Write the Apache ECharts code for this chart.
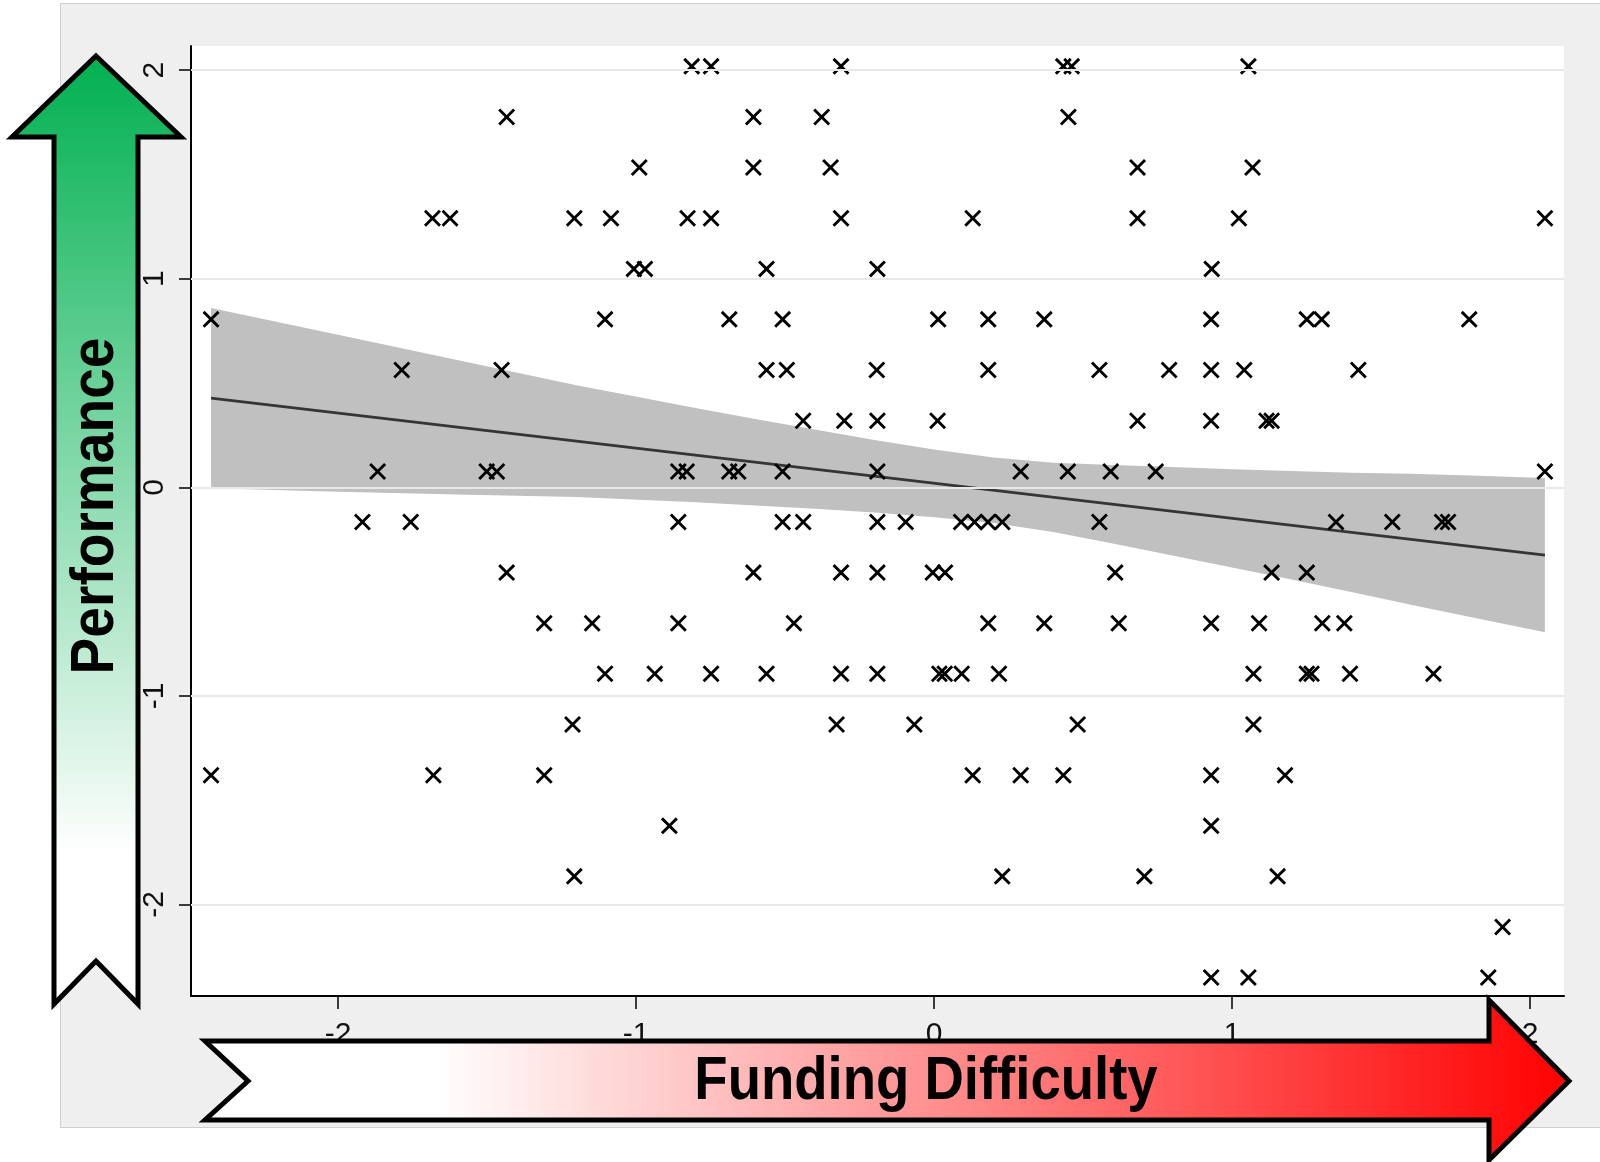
<!DOCTYPE html>
<html>
<head>
<meta charset="utf-8">
<script src="https://cdn.jsdelivr.net/npm/echarts@6/dist/echarts.min.js"></script>
<style>
  html, body { margin: 0; padding: 0; background: #ffffff; }
  #panel { position: absolute; left: 60px; top: 3px; width: 1545px; height: 1123px;
           background: #efefef; border: 1px solid #d0d0d0; }
  #chart { position: absolute; left: 0; top: 0; width: 1600px; height: 1162px; }
</style>
</head>
<body>
<div id="panel"></div>
<div id="chart"></div>
<script>
// Performance scores come in discrete steps; each row lists the funding-difficulty
// values observed at that performance level.
const rowY = [2.018, 1.775, 1.533, 1.290, 1.047, 0.805, 0.562, 0.319, 0.076, -0.166,
              -0.409, -0.652, -0.894, -1.137, -1.380, -1.623, -1.865, -2.108, -2.350];
const rowX = [
  [-0.813, -0.748, -0.312, 0.434, 0.462, 1.055],
  [-1.434, -0.606, -0.377, 0.451],
  [-0.989, -0.606, -0.347, 0.683, 1.069],
  [-1.683, -1.624, -1.207, -1.084, -0.827, -0.748, -0.312, 0.130, 0.683, 1.023, 2.050],
  [-1.007, -0.970, -0.562, -0.190, 0.932],
  [-2.426, -1.104, -0.687, -0.508, 0.014, 0.182, 0.370, 0.930, 1.251, 1.301, 1.796],
  [-1.786, -1.451, -0.562, -0.494, -0.192, 0.182, 0.555, 0.789, 0.930, 1.041, 1.424],
  [-0.439, -0.301, -0.190, 0.012, 0.683, 0.930, 1.116, 1.133],
  [-1.867, -1.501, -1.467, -0.858, -0.830, -0.687, -0.657, -0.508, -0.190, 0.291, 0.449, 0.593, 0.744, 2.050],
  [-1.918, -1.756, -0.858, -0.508, -0.439, -0.190, -0.095, 0.091, 0.136, 0.181, 0.229, 0.555, 1.349, 1.538, 1.705, 1.725],
  [-1.434, -0.606, -0.312, -0.190, -0.004, 0.037, 0.608, 1.133, 1.251],
  [-1.308, -1.147, -0.858, -0.470, 0.182, 0.370, 0.620, 0.930, 1.091, 1.303, 1.377],
  [-1.104, -0.937, -0.748, -0.562, -0.312, -0.190, 0.018, 0.036, 0.093, 0.218, 1.072, 1.251, 1.267, 1.396, 1.676],
  [-1.213, -0.327, -0.066, 0.482, 1.072],
  [-2.426, -1.680, -1.308, 0.130, 0.291, 0.434, 0.930, 1.178],
  [-0.888, 0.930],
  [-1.207, 0.229, 0.706, 1.153],
  [1.908],
  [0.930, 1.055, 1.860]
];

// Linear fit and its confidence band
const fitX = [-2.426, 2.050];
const fitY = [0.427, -0.325];
const bandX     = [-2.426, -2.000, -1.600, -1.200, -0.800, -0.600, -0.400, -0.200,  0.000,  0.200,
                    0.400,  0.600,  0.800,  1.000,  1.200,  1.400,  1.600,  1.800,  2.050];
const bandUpper = [ 0.859,  0.731,  0.610,  0.489,  0.380,  0.327,  0.277,  0.227,  0.181,  0.143,
                    0.118,  0.107,  0.097,  0.087,  0.078,  0.070,  0.065,  0.056,  0.045];
const bandLower = [-0.005, -0.021, -0.034, -0.047, -0.072, -0.087, -0.103, -0.121, -0.143, -0.171,
                   -0.214, -0.269, -0.327, -0.385, -0.442, -0.502, -0.563, -0.622, -0.695];

// Axis ticks
const xTicks = [-2, -1, 0, 1, 2];
const yTicks = [-2, -1, 0, 1, 2];

const points = [];
rowX.forEach((xs, i) => xs.forEach(x => points.push([x, rowY[i]])));

const crossPath = 'path://M0,12L12,0L50,38L88,0L100,12L62,50L100,88L88,100L50,62L12,100L0,88L38,50Z';
const labelFont = '"Liberation Sans", Arial, sans-serif';

const chart = echarts.init(document.getElementById('chart'), null, { renderer: 'canvas' });

const option = {
  animation: false,
  backgroundColor: 'transparent',
  grid: {
    left: 191, top: 46, right: 36, bottom: 166,
    show: true, backgroundColor: '#ffffff', borderWidth: 0,
    containLabel: false, outerBoundsMode: 'none'
  },
  xAxis: {
    type: 'value', min: -2.4933, max: 2.1141,
    axisLine: { show: true, onZero: false, lineStyle: { color: '#000', width: 2 } },
    axisTick: { show: true, length: 13, customValues: xTicks, lineStyle: { color: '#000', width: 1.5 } },
    axisLabel: { show: true, customValues: xTicks, margin: 24, fontSize: 30, color: '#111',
                 fontFamily: labelFont, formatter: v => String(v) },
    splitLine: { show: false }
  },
  yAxis: {
    type: 'value', min: -2.4386, max: 2.1155,
    axisLine: { show: true, onZero: false, lineStyle: { color: '#000', width: 2 } },
    axisTick: { show: true, length: 12, customValues: yTicks, lineStyle: { color: '#000', width: 1.5 } },
    axisLabel: { show: true, customValues: yTicks, rotate: 90, margin: 21, fontSize: 30, color: '#111',
                 fontFamily: labelFont, formatter: v => String(v) },
    splitLine: { show: false }
  },
  series: [
    {
      // horizontal reference lines at the y ticks
      type: 'line', data: [], z: 1, silent: true,
      markLine: {
        silent: true, symbol: ['none', 'none'], label: { show: false },
        lineStyle: { color: '#e8e8e8', width: 2, type: 'solid' },
        emphasis: { disabled: true },
        data: yTicks.map(v => ({ yAxis: v }))
      }
    },
    {
      type: 'custom', z: 2, silent: true,
      data: bandX.map((x, i) => [x, bandUpper[i], bandLower[i]]),
      encode: { x: 0, y: [1, 2] },
      renderItem: function (params, api) {
        if (params.dataIndex !== 0) return;
        const pts = [];
        for (let i = 0; i < bandX.length; i++) pts.push(api.coord([bandX[i], bandUpper[i]]));
        for (let i = bandX.length - 1; i >= 0; i--) pts.push(api.coord([bandX[i], bandLower[i]]));
        return { type: 'polygon', shape: { points: pts }, style: { fill: '#c0c0c0' } };
      }
    },
    {
      type: 'line', z: 3, silent: true, symbol: 'none',
      data: fitX.map((x, i) => [x, fitY[i]]),
      lineStyle: { color: '#353535', width: 2.8 }
    },
    {
      type: 'scatter', z: 4, silent: true,
      data: points,
      symbol: crossPath, symbolSize: 17,
      itemStyle: { color: '#000', opacity: 1 }
    }
  ],
  graphic: [
    {
      type: 'polygon', z: 100, silent: true,
      shape: { points: [[96, 56], [181, 137], [138, 137], [138, 1004], [96, 961], [54, 1004], [54, 137], [12, 137]] },
      style: {
        fill: new echarts.graphic.LinearGradient(0, 0, 0, 1, [
          { offset: 0, color: '#00b050' },
          { offset: 0.84, color: '#ffffff' },
          { offset: 1, color: '#ffffff' }
        ]),
        stroke: '#000', lineWidth: 5, lineJoin: 'miter'
      }
    },
    {
      type: 'text', z: 101, silent: true,
      x: 96, y: 506, rotation: Math.PI / 2, scaleX: 0.95, scaleY: 1.04,
      style: { text: 'Performance', font: 'bold 58px "Liberation Sans", Arial, sans-serif',
               fill: '#000', align: 'center', verticalAlign: 'middle' }
    },
    {
      type: 'polygon', z: 100, silent: true,
      shape: { points: [[205, 1041], [1489, 1041], [1489, 1000], [1569, 1081], [1489, 1160], [1489, 1120], [205, 1120], [248, 1081]] },
      style: {
        fill: new echarts.graphic.LinearGradient(0, 0, 1, 0, [
          { offset: 0, color: '#ffffff' },
          { offset: 0.17, color: '#ffffff' },
          { offset: 1, color: '#ff0000' }
        ]),
        stroke: '#000', lineWidth: 5, lineJoin: 'miter'
      }
    },
    {
      type: 'text', z: 101, silent: true,
      x: 926, y: 1082, scaleX: 0.94, scaleY: 1.04,
      style: { text: 'Funding Difficulty', font: 'bold 58px "Liberation Sans", Arial, sans-serif',
               fill: '#000', align: 'center', verticalAlign: 'middle' }
    }
  ]
};

chart.setOption(option);
</script>
</body>
</html>
